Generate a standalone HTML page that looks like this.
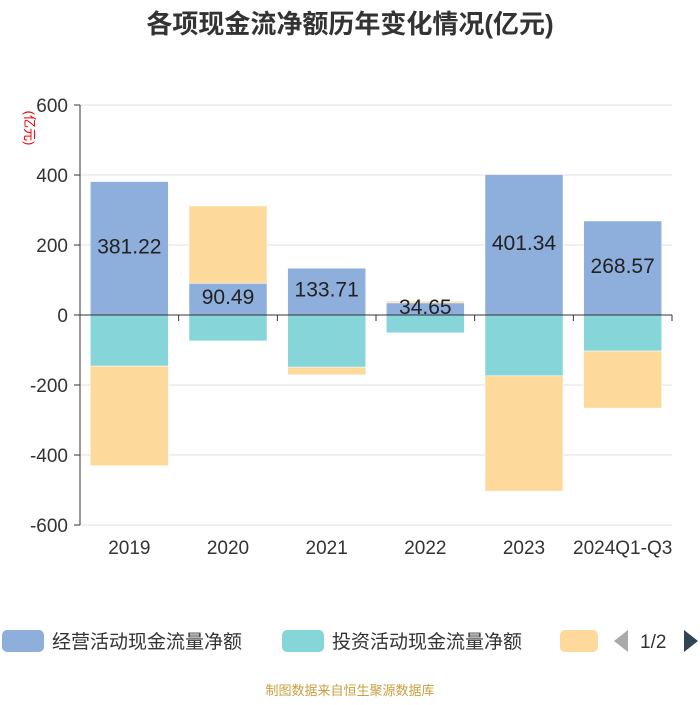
<!DOCTYPE html>
<html><head><meta charset="utf-8"><style>
body{margin:0;background:#fff;font-family:"Liberation Sans","Noto Sans CJK SC",sans-serif;}
</style></head><body>
<svg id="c" width="700" height="700" xmlns="http://www.w3.org/2000/svg">
<text x="350" y="33" text-anchor="middle" font-size="26" font-weight="bold" fill="#333" font-family="Liberation Sans,Noto Sans CJK SC,sans-serif">各项现金流净额历年变化情况(亿元)</text>
<text x="25" y="128" font-size="13" fill="#e00" transform="rotate(90 25 128)" text-anchor="middle" font-family="Liberation Sans,Noto Sans CJK SC,sans-serif">(亿元)</text>
<g id="grid"></g><g id="bars"></g><g id="axes"></g><g id="labels"></g>
<g font-family="Liberation Sans,Noto Sans CJK SC,sans-serif" font-size="19" fill="#333">
<rect x="2" y="630" width="42" height="22" rx="5" fill="#8eaedc"/>
<text x="52" y="648">经营活动现金流量净额</text>
<rect x="282" y="630" width="42" height="22" rx="5" fill="#86d6d9"/>
<text x="332" y="648">投资活动现金流量净额</text>
<rect x="560" y="630" width="38" height="22" rx="5" fill="#fdd99c"/>
<polygon points="628,630 628,652 614,641" fill="#aaa"/>
<text x="640" y="648">1/2</text>
<polygon points="684,630 684,652 698,641" fill="#2f4554"/>
</g>
<text x="350" y="695" text-anchor="middle" font-size="13" fill="#c8a040" font-family="Liberation Sans,Noto Sans CJK SC,sans-serif">制图数据来自恒生聚源数据库</text>
</svg>
<script>
const categories=["2019","2020","2021","2022","2023","2024Q1-Q3"];
const operating=[381.22,90.49,133.71,34.65,401.34,268.57];
const investing=[-146,-74,-149,-51,-174,-103];
const financing=[-285,221,-22,5,-329,-163];
const yTicks=[600,400,200,0,-200,-400,-600];
const NS="http://www.w3.org/2000/svg";
const x0=80,x1=672,yTop=105,yBot=525,yMax=600,yMin=-600;
const y=v=>yTop+(yMax-v)/(yMax-yMin)*(yBot-yTop);
const bw=(x1-x0)/categories.length;
const xc=i=>x0+bw*(i+0.5);
function mk(t,a,p){const e=document.createElementNS(NS,t);for(const k in a)e.setAttribute(k,a[k]);document.getElementById(p).appendChild(e);return e;}
yTicks.forEach(v=>{
 const l=mk('line',{x1:x0,x2:x1,y1:y(v),y2:y(v),stroke:'#e0e0e0'},'grid');
 
 
 const t=mk('text',{x:x0-12,y:y(v)+7,'text-anchor':'end','font-size':19,fill:'#333','font-family':'Liberation Sans,sans-serif'},'axes');
 t.textContent=v;
 
 
 const k=mk('line',{x1:x0-6,x2:x0,y1:y(v),y2:y(v),stroke:'#333'},'axes');
 
 
});
const ya=mk('line',{x1:x0,x2:x0,y1:yTop,y2:yBot,stroke:'#333'},'axes');


const xa=mk('line',{x1:x0,x2:x1,y1:y(0),y2:y(0),stroke:'#333'},'axes');


function bar(i,a,b,col,name){
 const top=y(Math.max(a,b)),bot=y(Math.min(a,b));
 const r=mk('rect',{x:xc(i)-39,y:top,width:78,height:Math.max(bot-top,0.5),fill:col,stroke:'#fff','stroke-width':0.5},'bars');
 
 
}
categories.forEach((c,i)=>{
 let pos=0,neg=0;
 [[operating[i],'#8eaedc','bar-operating-'+c],[investing[i],'#86d6d9','bar-investing-'+c],[financing[i],'#fdd99c','bar-financing-'+c]].forEach(([v,col,n])=>{
  if(v>=0){bar(i,pos,pos+v,col,n);pos+=v;}else{bar(i,neg,neg+v,col,n);neg+=v;}
 });
 const t=mk('text',{x:xc(i),y:y(operating[i]/2)+5,'text-anchor':'middle','font-size':21,fill:'#222','font-family':'Liberation Sans,sans-serif'},'labels');
 t.textContent=operating[i].toFixed(2);
 
 
 const xl=mk('text',{x:xc(i),y:554,'text-anchor':'middle','font-size':19,fill:'#333','font-family':'Liberation Sans,sans-serif'},'axes');
 xl.textContent=c;
 
 
 const tk=mk('line',{x1:x0+bw*(i+1),x2:x0+bw*(i+1),y1:y(0),y2:y(0)+6,stroke:'#333'},'axes');
 
 
});
</script>
</body></html>
